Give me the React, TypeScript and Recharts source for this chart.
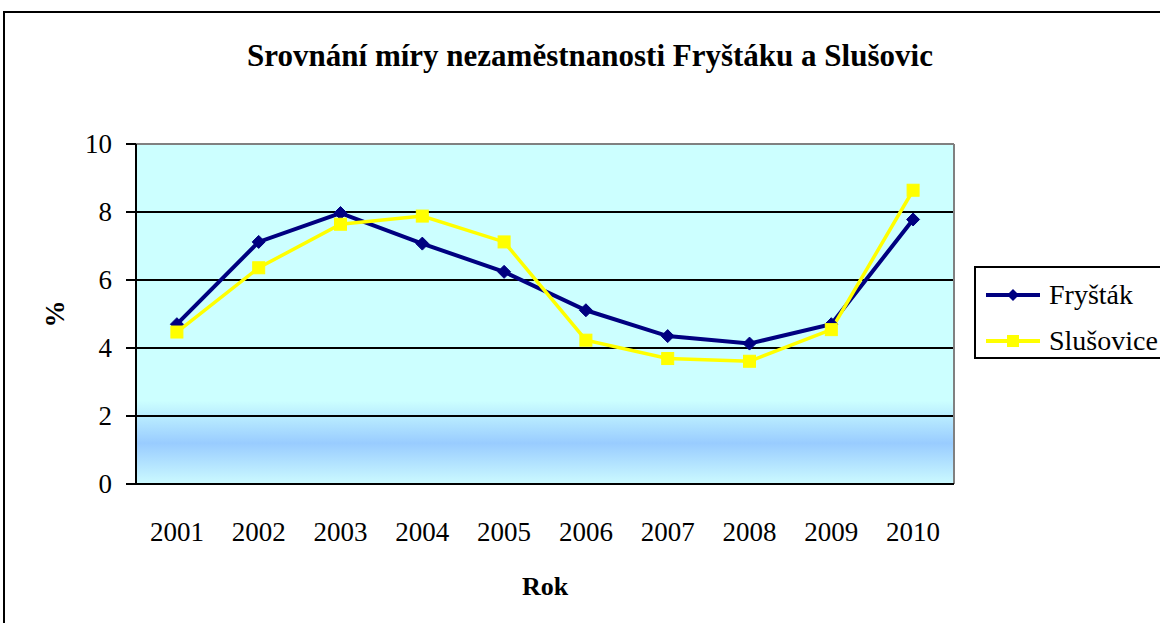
import React from 'react';
import { LineChart, Line, XAxis, YAxis, CartesianGrid, ReferenceLine } from 'recharts';

const categories = ['2001', '2002', '2003', '2004', '2005', '2006', '2007', '2008', '2009', '2010'];
const frystak = [4.7, 7.12, 7.97, 7.07, 6.24, 5.11, 4.35, 4.13, 4.7, 7.78];
const slusovice = [4.47, 6.36, 7.64, 7.88, 7.12, 4.23, 3.69, 3.61, 4.54, 8.64];
const yTicks = [0, 2, 4, 6, 8, 10];
const gridValues = [2, 4, 6, 8];
const seriesNames = ['Fryšták', 'Slušovice'];
const chartTitle = 'Srovnání míry nezaměstnanosti Fryštáku a Slušovic';
const yLabel = '%';
const xLabel = 'Rok';

const data = categories.map((c, i) => ({ x: i + 0.5, year: c, frystak: frystak[i], slusovice: slusovice[i] }));
const boundaryTicks = [...categories.map((_, i) => i), categories.length];
const centerTicks = categories.map((_, i) => i + 0.5);

const FONT = '"Liberation Serif", "Times New Roman", serif';
const NAVY = '#000080';
const YELLOW = '#FFFF00';

const Diamond = (props: any) => {
  const { cx, cy } = props;
  if (cx == null || cy == null) return null;
  const r = 6.5;
  return <polygon points={`${cx},${cy - r} ${cx + r},${cy} ${cx},${cy + r} ${cx - r},${cy}`} fill={NAVY} stroke={NAVY} strokeWidth={1} />;
};

const Square = (props: any) => {
  const { cx, cy } = props;
  if (cx == null || cy == null) return null;
  const s = 12;
  return <rect x={cx - s / 2} y={cy - s / 2} width={s} height={s} fill={YELLOW} stroke={YELLOW} />;
};

const YearTick = (props: any) => {
  const { x, y, payload } = props;
  const idx = Math.round(payload.value - 0.5);
  return (
    <text x={x} y={y + 45} textAnchor="middle" fontFamily={FONT} fontSize={27} fill="#000">
      {categories[idx]}
    </text>
  );
};

const YTick = (props: any) => {
  const { x, y, payload } = props;
  return (
    <text x={x} y={y + 9} textAnchor="end" fontFamily={FONT} fontSize={27} fill="#000">
      {payload.value}
    </text>
  );
};

const YLabel = (props: any) => {
  const vb = props.viewBox || {};
  const cx = 55;
  const cy = vb.y + vb.height / 2;
  return (
    <text x={cx} y={cy} transform={`rotate(-90, ${cx}, ${cy})`} textAnchor="middle" dominantBaseline="central" fontFamily={FONT} fontWeight="bold" fontSize={27} fill="#000">
      {yLabel}
    </text>
  );
};

const XLabel = (props: any) => {
  const vb = props.viewBox || {};
  const cx = vb.x + vb.width / 2;
  return (
    <text x={cx} y={vb.y + 99} textAnchor="middle" fontFamily={FONT} fontWeight="bold" fontSize={26} fill="#000">
      {xLabel}
    </text>
  );
};

export default function App() {
  return (
    <div style={{ position: 'absolute', left: 0, top: 0, width: 1160, height: 623, overflow: 'hidden', background: '#fff' }}>
      <div style={{ position: 'absolute', left: 3, top: 11, width: 1300, height: 800, border: '2px solid #000', boxSizing: 'border-box' }} />
      <div style={{ position: 'absolute', left: 590, top: 40, transform: 'translateX(-50%)', whiteSpace: 'nowrap', fontFamily: FONT, fontWeight: 'bold', fontSize: 31, lineHeight: '31px', color: '#000' }}>
        {chartTitle}
      </div>
      <div style={{ position: 'absolute', left: 0, top: 0 }}>
        <LineChart width={1160} height={623} data={data} margin={{ top: 144, right: 206, bottom: 0, left: 0 }}>
          <defs>
            <linearGradient id="plotBg" x1="0" y1="0" x2="0" y2="1">
              <stop offset="0" stopColor="#CCFFFF" />
              <stop offset="0.755" stopColor="#CCFFFF" />
              <stop offset="0.88" stopColor="#99CCFF" />
              <stop offset="1" stopColor="#CCFAFF" />
            </linearGradient>
          </defs>
          <CartesianGrid vertical={false} horizontalValues={gridValues} stroke="#000" strokeWidth={2} fill="url(#plotBg)" fillOpacity={1} />
          <XAxis
            xAxisId={0}
            type="number"
            dataKey="x"
            domain={[0, categories.length]}
            ticks={boundaryTicks}
            tick={false}
            tickSize={11}
            axisLine={{ stroke: '#000', strokeWidth: 2 }}
            tickLine={{ stroke: '#000', strokeWidth: 2 }}
            height={12}
            allowDataOverflow
          />
          <XAxis
            xAxisId="lbl"
            type="number"
            dataKey="x"
            domain={[0, categories.length]}
            ticks={centerTicks}
            tick={<YearTick />}
            tickSize={0}
            tickMargin={0}
            axisLine={false}
            tickLine={false}
            height={127}
            allowDataOverflow
            label={<XLabel />}
          />
          <YAxis
            type="number"
            domain={[0, 10]}
            ticks={yTicks}
            width={136}
            tickSize={10}
            tickMargin={14}
            tick={<YTick />}
            axisLine={{ stroke: '#000', strokeWidth: 2 }}
            tickLine={{ stroke: '#000', strokeWidth: 2 }}
            label={<YLabel />}
          />
          <ReferenceLine y={10} stroke="#808080" strokeWidth={2} />
          <ReferenceLine x={categories.length} stroke="#808080" strokeWidth={2} />
          <Line type="linear" dataKey="frystak" name={seriesNames[0]} stroke={NAVY} strokeWidth={4} dot={<Diamond />} activeDot={false} isAnimationActive={false} />
          <Line type="linear" dataKey="slusovice" name={seriesNames[1]} stroke={YELLOW} strokeWidth={3.5} dot={<Square />} activeDot={false} isAnimationActive={false} />
        </LineChart>
      </div>
      <div style={{ position: 'absolute', left: 974, top: 266, width: 260, height: 93, border: '2px solid #000', boxSizing: 'border-box', background: '#fff' }}>
        {seriesNames.map((name, i) => (
          <div key={name} style={{ position: 'absolute', left: 9, top: i === 0 ? 10 : 56, height: 34, display: 'flex', alignItems: 'center' }}>
            <svg width={56} height={16} style={{ display: 'block' }}>
              <line x1={1} y1={8} x2={55} y2={8} stroke={i === 0 ? NAVY : YELLOW} strokeWidth={4} />
              {i === 0 ? (
                <polygon points="28,2 34,8 28,14 22,8" fill={NAVY} />
              ) : (
                <rect x={22} y={2} width={12} height={12} fill={YELLOW} />
              )}
            </svg>
            <span style={{ marginLeft: 8, fontFamily: FONT, fontSize: 28, lineHeight: '34px', color: '#000', whiteSpace: 'nowrap' }}>{name}</span>
          </div>
        ))}
      </div>
    </div>
  );
}
